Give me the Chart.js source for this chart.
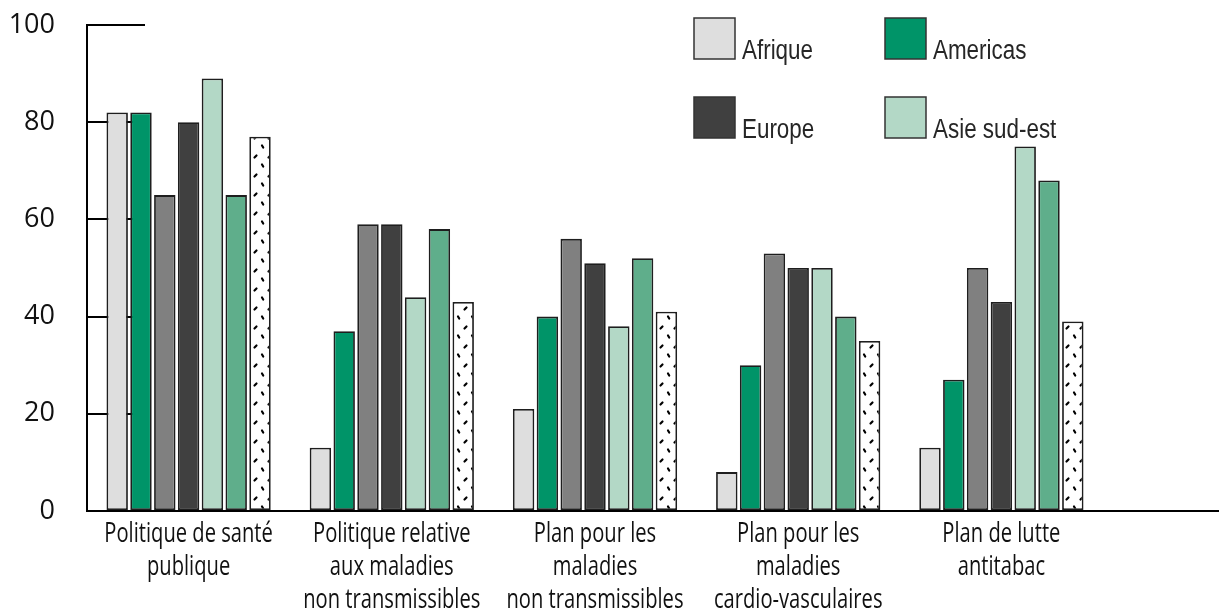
<!DOCTYPE html>
<html>
<head>
<meta charset="utf-8">
<script src="https://cdn.jsdelivr.net/npm/chart.js@4/dist/chart.umd.min.js"></script>
<style>
  html, body { margin: 0; padding: 0; background: #ffffff; }
  #wrap { width: 1219px; height: 613px; position: relative; }
</style>
</head>
<body>
<div id="wrap"><canvas id="chart" width="1219" height="613"></canvas></div>
<script>
// Categories (multi-line axis labels)
const categories = [
  ["Politique de santé", "publique"],
  ["Politique relative", "aux maladies", "non transmissibles"],
  ["Plan pour les", "maladies", "non transmissibles"],
  ["Plan pour les", "maladies", "cardio-vasculaires"],
  ["Plan de lutte", "antitabac"]
];

// Y axis tick values
const yTicks = [0, 20, 40, 60, 80, 100];

// Series values (% of countries), one entry per category
const afrique      = [82, 13, 21,  8, 13];
const americas     = [82, 37, 40, 30, 27];
const mediterranee = [65, 59, 56, 53, 50];
const europe       = [80, 59, 51, 50, 43];
const asieSudEst   = [89, 44, 38, 50, 75];
const pacifique    = [65, 58, 52, 40, 68];
const monde        = [77, 43, 41, 35, 39];

// Dotted fill for the last series
function dotPattern() {
  const c = document.createElement('canvas');
  c.width = 14; c.height = 19;
  const g = c.getContext('2d');
  g.fillStyle = '#ffffff';
  g.fillRect(0, 0, 14, 19);
  g.strokeStyle = '#000000';
  g.lineWidth = 2.2;
  g.lineCap = 'round';
  g.beginPath(); g.moveTo(2.5, 5.5); g.lineTo(4.5, 3.5); g.stroke();
  g.beginPath(); g.moveTo(10, 12.5); g.lineTo(11.2, 14.5); g.stroke();
  const ctx = document.getElementById('chart').getContext('2d');
  return ctx.createPattern(c, 'repeat');
}

const BORDER = '#1e1e1e';
const datasets = [
  { label: 'Afrique',                data: afrique,      backgroundColor: '#dedede', inLegend: true },
  { label: 'Americas',               data: americas,     backgroundColor: '#009468', inLegend: true },
  { label: 'Méditerranée orientale', data: mediterranee, backgroundColor: '#808080', inLegend: false },
  { label: 'Europe',                 data: europe,       backgroundColor: '#404040', inLegend: true },
  { label: 'Asie sud-est',           data: asieSudEst,   backgroundColor: '#b3d8c6', inLegend: true },
  { label: 'Pacifique occidental',   data: pacifique,    backgroundColor: '#5fae8b', inLegend: false },
  { label: 'Monde',                  data: monde,        backgroundColor: dotPattern(), inLegend: false }
].map(d => Object.assign(d, {
  borderColor: BORDER,
  borderWidth: 1.8,
  borderSkipped: false,
  categoryPercentage: 0.82,
  barPercentage: 0.9
}));

// Draw text squeezed horizontally (condensed look)
function condensedText(ctx, text, x, y, squeeze) {
  ctx.save();
  ctx.translate(x, y);
  ctx.scale(squeeze, 1);
  ctx.fillText(text, 0, 0);
  ctx.restore();
}

// Two-column legend, text aligned to the bottom of each swatch
const legendPlugin = {
  id: 'swatchLegend',
  afterDraw(chart) {
    const ctx = chart.ctx;
    const items = chart.data.datasets.filter(d => d.inLegend);
    ctx.save();
    ctx.font = '27px "Liberation Sans", Arial, sans-serif';
    ctx.textBaseline = 'alphabetic';
    ctx.textAlign = 'left';
    items.forEach((d, i) => {
      const col = i % 2, row = Math.floor(i / 2);
      const x = 694 + col * 191;
      const y = 18 + row * 79;
      const s = 41;
      ctx.fillStyle = d.backgroundColor;
      ctx.fillRect(x, y, s, s);
      ctx.lineWidth = 1.5;
      ctx.strokeStyle = '#333333';
      ctx.strokeRect(x, y, s, s);
      ctx.fillStyle = '#262626';
      condensedText(ctx, d.label, x + s + 7, y + s, 0.83);
    });
    ctx.restore();
  }
};

// Category labels under each group, in a condensed face
const categoryLabelPlugin = {
  id: 'categoryLabels',
  afterDraw(chart) {
    const ctx = chart.ctx;
    const xs = chart.scales.x;
    const top = xs.top;
    ctx.save();
    ctx.font = '500 28px "Open Sans", sans-serif';
    ctx.fillStyle = '#111111';
    ctx.textAlign = 'center';
    ctx.textBaseline = 'alphabetic';
    chart.data.labels.forEach((lines, i) => {
      const x = xs.getPixelForTick(i);
      lines.forEach((line, j) => {
        condensedText(ctx, line, x, top + 31 + j * 33, 0.72);
      });
    });
    ctx.restore();
  }
};

// The baseline continues to the right edge of the canvas
const baselinePlugin = {
  id: 'baselineExtend',
  afterDatasetsDraw(chart) {
    const ctx = chart.ctx;
    const y = chart.scales.y.getPixelForValue(0);
    ctx.save();
    ctx.strokeStyle = '#000000';
    ctx.lineWidth = 2;
    ctx.beginPath();
    ctx.moveTo(chart.chartArea.left, y);
    ctx.lineTo(chart.width, y);
    ctx.stroke();
    ctx.restore();
  }
};

new Chart(document.getElementById('chart'), {
  type: 'bar',
  data: { labels: categories, datasets },
  plugins: [legendPlugin, categoryLabelPlugin, baselinePlugin],
  options: {
    responsive: false,
    animation: false,
    devicePixelRatio: 1,
    layout: { padding: { top: 25, right: 116, bottom: 0, left: 0 } },
    plugins: { legend: { display: false }, tooltip: { enabled: false } },
    scales: {
      x: {
        afterFit(scale) {
          scale.height = 102;
          scale.paddingLeft = 0;
          scale.paddingRight = 0;
        },
        grid: { display: false, drawTicks: false },
        border: { display: true, color: '#000000', width: 2 },
        ticks: { display: false }
      },
      y: {
        min: 0,
        max: 100,
        afterFit(scale) {
          scale.width = 87;
          scale.paddingTop = 0;
          scale.paddingBottom = 0;
        },
        afterBuildTicks(scale) { scale.ticks = yTicks.map(v => ({ value: v })); },
        grid: {
          drawOnChartArea: false,
          drawTicks: true,
          tickLength: -58,
          color: '#000000',
          lineWidth: 2
        },
        border: { display: true, color: '#000000', width: 2 },
        ticks: {
          padding: 90,
          color: '#111111',
          font: { family: '"Open Sans", sans-serif', size: 27 }
        }
      }
    }
  }
});
</script>
</body>
</html>
